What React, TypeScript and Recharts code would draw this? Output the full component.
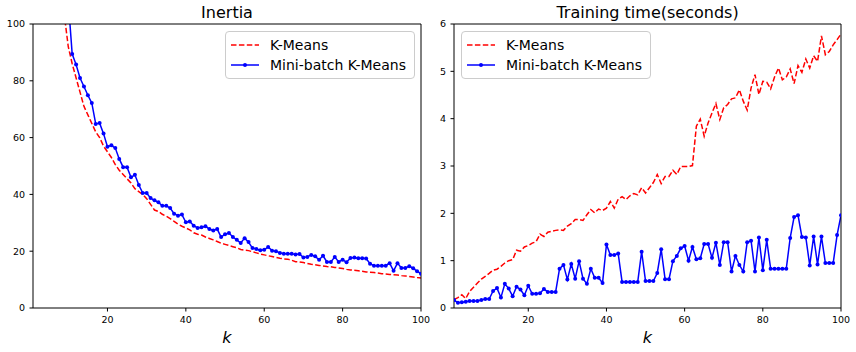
import { LineChart, Line, XAxis, YAxis, Legend } from "recharts";

const FONT = "DejaVu Sans, sans-serif";
const RED = "#ff0000";
const BLUE = "#0000ff";

// k = 1..100 (cluster counts on the x axis)
const K_VALUES = Array.from({ length: 100 }, (_, i) => i + 1);

// values for k < 9 sit above the visible range and get clipped
const INERTIA_KMEANS = [
  560, 380, 280, 215, 170, 140, 122, 110, 103, 92,
  86, 81, 76, 71, 68, 65, 62, 60, 57, 55,
  53, 50.5, 48.5, 47, 45.5, 44, 42, 41, 40, 38.5,
  36.5, 34.5, 34, 33, 32.3, 31.5, 30.5, 29.5, 28.8, 28.2,
  27.5, 26.5, 26, 25.7, 25, 24.5, 24, 23.4, 22.8, 22.4,
  22, 21.6, 21.2, 20.6, 20.4, 20.2, 19.8, 19.4, 19, 18.7,
  18.4, 18.1, 17.8, 17.5, 17.3, 17.2, 16.8, 16.3, 16.2, 16,
  15.7, 15.4, 15.2, 15, 14.8, 14.6, 14.5, 14.3, 14.1, 13.9,
  13.6, 13.4, 13.3, 13.1, 12.9, 12.7, 12.6, 12.5, 12.3, 12.1,
  12, 11.8, 11.7, 11.6, 11.4, 11.3, 11.1, 10.9, 10.7, 10.6,
];

const INERTIA_MINIBATCH = [
  600, 400, 300, 230, 185, 155, 135, 122, 116, 108,
  89.4, 85.7, 81, 78, 74.9, 72.2, 64.8, 65.1, 61.4, 56.8,
  57.3, 56.3, 52.5, 49.6, 49.6, 46, 46.9, 43.3, 40.5, 40.5,
  38.7, 37.9, 37.2, 36, 36, 35.2, 33.2, 32.5, 32.9, 30.2,
  30.5, 29, 28.2, 28.4, 28.8, 27.8, 27.3, 27.8, 25, 26,
  26.4, 25, 24, 22.9, 24.6, 23.2, 21.1, 20.8, 20.3, 20.5,
  21.5, 20.2, 20, 19.4, 19.1, 19.1, 19.1, 18.8, 19, 17.8,
  18, 18.7, 18.2, 17, 18.4, 16.2, 16.2, 18, 16.2, 17,
  16.1, 17.6, 17.8, 17.5, 17.5, 17.4, 15.6, 14.9, 14.9, 14.9,
  14.9, 15.8, 13.1, 15.8, 14.1, 14.1, 14.7, 14, 12.9, 12.1,
];

const TIME_KMEANS = [
  0.18, 0.22, 0.28, 0.2, 0.35, 0.44, 0.53, 0.61, 0.67, 0.73,
  0.8, 0.82, 0.88, 0.95, 1.0, 1.02, 1.22, 1.2, 1.29, 1.32,
  1.37, 1.4, 1.56, 1.51, 1.6, 1.62, 1.64, 1.65, 1.64, 1.73,
  1.78, 1.87, 1.87, 1.85, 1.97, 2.08, 2.01, 2.09, 2.06, 2.11,
  2.25, 2.11, 2.3, 2.35, 2.29, 2.37, 2.42, 2.39, 2.54, 2.43,
  2.54, 2.65, 2.82, 2.63, 2.78, 2.78, 2.91, 2.82, 2.99, 2.99,
  2.99, 3.01, 3.84, 3.99, 3.63, 3.91, 4.12, 4.32, 3.98, 4.23,
  4.3, 4.42, 4.44, 4.61, 4.37, 4.18, 4.65, 4.93, 4.51, 4.79,
  4.77, 4.63, 4.88, 5.07, 4.82, 4.88, 5.05, 4.74, 5.12, 4.98,
  5.26, 5.07, 5.33, 5.21, 5.75, 5.35, 5.42, 5.56, 5.67, 5.79,
];

const TIME_MINIBATCH = [
  0.17, 0.11, 0.12, 0.13, 0.15, 0.15, 0.15, 0.17, 0.19, 0.19,
  0.36, 0.42, 0.22, 0.51, 0.41, 0.25, 0.45, 0.39, 0.27, 0.47,
  0.3, 0.3, 0.31, 0.4, 0.34, 0.34, 0.34, 0.83, 0.91, 0.6,
  0.93, 0.62, 0.99, 0.62, 0.51, 0.83, 0.64, 0.64, 0.53, 1.34,
  1.12, 1.12, 1.15, 0.55, 0.55, 0.55, 0.55, 0.55, 1.19, 0.57,
  0.57, 0.57, 0.74, 1.24, 0.61, 0.61, 0.99, 1.1, 1.26, 1.31,
  1.0, 1.29, 1.03, 1.05, 1.35, 1.35, 1.06, 1.38, 0.91, 1.39,
  1.39, 0.77, 1.1, 0.91, 0.77, 1.39, 1.42, 0.77, 1.49, 0.8,
  1.44, 0.83, 0.83, 0.83, 0.83, 0.83, 1.48, 1.92, 1.96, 1.5,
  1.49, 0.9, 1.51, 0.92, 1.51, 0.95, 0.95, 0.95, 1.54, 1.96,
];

const X_TICKS = [20, 40, 60, 80, 100];
const INERTIA_TICKS = [0, 20, 40, 60, 80, 100];
const TIME_TICKS = [0, 1, 2, 3, 4, 5, 6];

const SERIES = [
  { key: "kmeans", name: "K-Means", color: RED, dashed: true },
  { key: "minibatch", name: "Mini-batch K-Means", color: BLUE, dashed: false },
];

const inertiaData = K_VALUES.map((k, i) => ({
  k,
  kmeans: INERTIA_KMEANS[i],
  minibatch: INERTIA_MINIBATCH[i],
}));

const timeData = K_VALUES.map((k, i) => ({
  k,
  kmeans: TIME_KMEANS[i],
  minibatch: TIME_MINIBATCH[i],
}));

function LegendBox() {
  return (
    <div
      style={{
        border: "1px solid #cccccc",
        borderRadius: 4,
        background: "rgba(255,255,255,0.8)",
        padding: "3px 8px 3px 5px",
        fontFamily: FONT,
        fontSize: 14,
        lineHeight: "20px",
        color: "#000",
        whiteSpace: "nowrap",
      }}
    >
      {SERIES.map((s) => (
        <div key={s.key} style={{ display: "flex", alignItems: "center" }}>
          <svg width={28} height={10} style={{ marginRight: 11 }}>
            <line
              x1={0}
              x2={28}
              y1={5}
              y2={5}
              stroke={s.color}
              strokeWidth={1.5}
              strokeDasharray={s.dashed ? "5.5 2.4" : undefined}
            />
            {!s.dashed && <circle cx={14} cy={5} r={2} fill={s.color} />}
          </svg>
          <span>{s.name}</span>
        </div>
      ))}
    </div>
  );
}

interface PanelProps {
  title: string;
  data: { k: number; kmeans: number; minibatch: number }[];
  yMax: number;
  yTicks: number[];
  left: number;
  width: number;
  yAxisWidth: number;
  marginRight: number;
  legendLeft: number;
}

function Panel({ title, data, yMax, yTicks, left, width, yAxisWidth, marginRight, legendLeft }: PanelProps) {
  const tickStyle = { fontSize: 9.5, fill: "#000", fontFamily: FONT };
  return (
    <div style={{ position: "absolute", left, top: 0 }}>
      <LineChart
        width={width}
        height={352}
        data={data}
        margin={{ top: 23, right: marginRight, bottom: 0, left: 0 }}
        style={{ fontFamily: FONT }}
      >
        <XAxis
          dataKey="k"
          type="number"
          domain={[1, 100]}
          ticks={X_TICKS}
          allowDataOverflow
          height={44}
          stroke="#000"
          tickSize={3.5}
          tickMargin={4.5}
          tick={tickStyle}
          label={{
            value: "k",
            position: "insideBottom",
            offset: 9,
            style: { fontSize: 16, fontStyle: "italic", fill: "#000", fontFamily: FONT },
          }}
        />
        <XAxis
          xAxisId="top"
          orientation="top"
          dataKey="k"
          type="number"
          domain={[1, 100]}
          height={1}
          tick={false}
          tickLine={false}
          stroke="#000"
          label={{
            value: title,
            position: "top",
            offset: 5,
            style: { fontSize: 16, fill: "#000", fontFamily: FONT },
          }}
        />
        <YAxis
          type="number"
          domain={[0, yMax]}
          ticks={yTicks}
          allowDataOverflow
          width={yAxisWidth}
          stroke="#000"
          tickSize={3.5}
          tickMargin={4.5}
          tick={tickStyle}
        />
        <YAxis
          yAxisId="right"
          orientation="right"
          domain={[0, yMax]}
          width={1}
          tick={false}
          tickLine={false}
          stroke="#000"
        />
        <Legend
          content={() => <LegendBox />}
          layout="vertical"
          align="center"
          verticalAlign="middle"
          wrapperStyle={{ left: legendLeft, top: 31, width: "auto", height: "auto" }}
        />
        <Line
          dataKey="kmeans"
          name="K-Means"
          type="linear"
          stroke={RED}
          strokeWidth={1.5}
          strokeDasharray="5.5 2.4"
          dot={false}
          activeDot={false}
          isAnimationActive={false}
        />
        <Line
          dataKey="minibatch"
          name="Mini-batch K-Means"
          type="linear"
          stroke={BLUE}
          strokeWidth={1.5}
          dot={{ r: 2, fill: BLUE, stroke: BLUE, strokeWidth: 0 }}
          activeDot={false}
          isAnimationActive={false}
        />
      </LineChart>
    </div>
  );
}

export default function App() {
  return (
    <div style={{ position: "absolute", left: 0, top: 0, width: 856, height: 352, background: "#fff" }}>
      <Panel
        title="Inertia"
        data={inertiaData}
        yMax={100}
        yTicks={INERTIA_TICKS}
        left={0}
        width={430}
        yAxisWidth={33}
        marginRight={8}
        legendLeft={225}
      />
      <Panel
        title="Training time(seconds)"
        data={timeData}
        yMax={6}
        yTicks={TIME_TICKS}
        left={430}
        width={426}
        yAxisWidth={24}
        marginRight={14}
        legendLeft={31}
      />
    </div>
  );
}
